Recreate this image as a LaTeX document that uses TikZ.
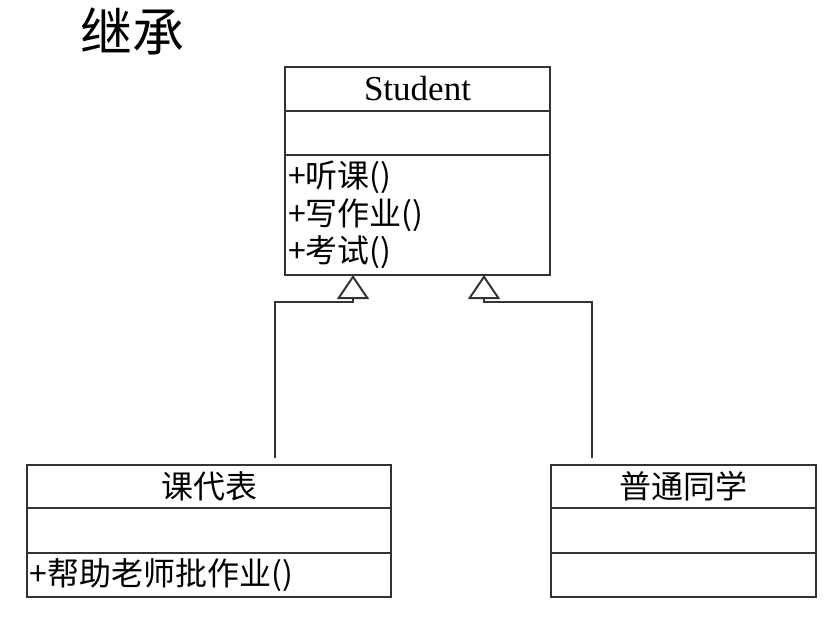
\documentclass[tikz,border=0pt]{standalone}
\usepackage{fontspec}
\setmainfont{Liberation Serif}
\newfontfamily\cjk{Noto Sans CJK SC}
\usetikzlibrary{positioning, arrows.meta}
\tikzstyle{classpart} = [rectangle, draw=black!80, line width=2pt, inner sep=3pt, outer sep=0pt, font=\cjk\fontsize{32}{37.5}\selectfont]
\tikzstyle{classname} = [classpart, minimum height=44pt, text centered]
\tikzstyle{inherit} = [draw=black!80, line width=2pt, -{Triangle[open, length=24pt, width=32pt]}]

\begin{document}
\begin{tikzpicture}[x=1pt, y=-1pt]
\useasboundingbox (0,0) rectangle (836,634);
\node (title) [font=\cjk\fontsize{52}{56}\selectfont] at (132,31) {继承};

\node (stuname) [classname, minimum width=265pt, font=\fontsize{35}{40}\selectfont] at (417.5,89) {Student};
\node (stuattr) [classpart, minimum width=265pt, minimum height=44pt, below=0pt of stuname] {};
\node (stumeth) [classpart, minimum width=265pt, minimum height=120pt, text width=259pt, align=left, below=0pt of stuattr] {+听课()\\+写作业()\\+考试()};

\node (kdbname) [classname, minimum width=364pt, minimum height=43pt] at (209,486.5) {课代表};
\node (kdbattr) [classpart, minimum width=364pt, minimum height=45pt, below=0pt of kdbname] {};
\node (kdbmeth) [classpart, minimum width=364pt, minimum height=44pt, text width=358pt, align=left, below=0pt of kdbattr] {+帮助老师批作业()};

\node (ptname) [classname, minimum width=265pt, minimum height=43pt] at (683.5,486.5) {普通同学};
\node (ptattr) [classpart, minimum width=265pt, minimum height=45pt, below=0pt of ptname] {};
\node (ptmeth) [classpart, minimum width=265pt, minimum height=44pt, below=0pt of ptattr] {};

\coordinate (kdbtop) at ([xshift=66pt, yshift=7pt]kdbname.north);
\coordinate (pttop) at ([xshift=-91.5pt, yshift=7pt]ptname.north);
\draw [inherit] (kdbtop) |- ([xshift=-64.5pt, yshift=-27pt]stumeth.south) -- ([xshift=-64.5pt]stumeth.south);
\draw [inherit] (pttop) |- ([xshift=66.5pt, yshift=-27pt]stumeth.south) -- ([xshift=66.5pt]stumeth.south);
\end{tikzpicture}
\end{document}
